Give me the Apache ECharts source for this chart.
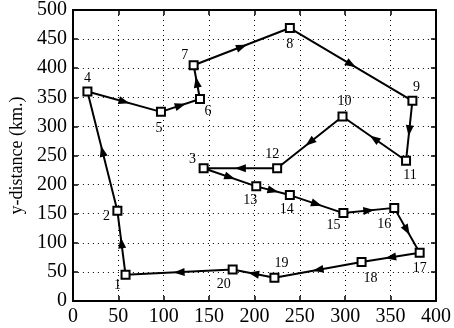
<!DOCTYPE html>
<html><head><meta charset="utf-8">
<script src="https://cdn.jsdelivr.net/npm/echarts@6/dist/echarts.min.js"></script>
<style>html,body{margin:0;padding:0;background:#fff}#c{width:454px;height:328px}</style>
</head><body><div id="c"></div>
<script>
// ---- data ----
const pointIds = ['1','2','3','4','5','6','7','8','9','10','11','12','13','14','15','16','17','18','19','20'];
const xValues  = [58, 49, 144, 16, 97, 140, 133, 239, 374, 297, 367, 225, 202, 239, 298, 354, 382, 318, 222, 176];
const yValues  = [45, 155, 228, 360, 325, 347, 405, 469, 344, 317, 241, 228, 197, 182, 151, 160, 83, 67, 40, 54];
const routeOrder = ['1','2','4','5','6','7','8','9','11','10','12','3','13','14','15','16','17','18','19','20','1'];
const xTickValues = [0, 50, 100, 150, 200, 250, 300, 350, 400];
const yTickValues = [0, 50, 100, 150, 200, 250, 300, 350, 400, 450, 500];
const yAxisTitle = 'y-distance (km.)';

// ---- styling (label offsets in px relative to marker centre) ----
const labelOffsets = {
  '1':[-8,11],'2':[-11,6],'3':[-11,-9],'4':[0,-13],'5':[-2,16],'6':[8,12],'7':[-9,-10],
  '8':[0,16],'9':[4,-13],'10':[2,-15],'11':[4,15],'12':[-5,-14],'13':[-6,14],'14':[-3,14],
  '15':[-10,12],'16':[-10,16],'17':[0,16],'18':[9,16],'19':[7,-14],'20':[-9,15]
};
const FONT = '"Liberation Serif", "DejaVu Serif", serif';

const pt = id => { const i = pointIds.indexOf(id); return [xValues[i], yValues[i]]; };
const pathData = routeOrder.map(pt);
const segData = [];
for (let k = 0; k < routeOrder.length - 1; k++) {
  const a = pt(routeOrder[k]), b = pt(routeOrder[k+1]);
  segData.push([a[0], a[1], b[0], b[1]]);
}
const markerData = pointIds.map((id, i) => ({
  value: [xValues[i], yValues[i]],
  name: id,
  label: { show: true, position: 'inside', offset: labelOffsets[id], formatter: id,
           fontFamily: FONT, fontSize: 14, color: '#000' }
}));

const chart = echarts.init(document.getElementById('c'), null, {renderer: 'canvas'});
const axisLine = { show: true, onZero: false, lineStyle: { color: '#000', width: 2 } };
const splitLine = { show: true, lineStyle: { color: '#000', width: 1, type: [1, 4] } };
chart.setOption({
  animation: false,
  backgroundColor: '#fff',
  grid: { left: 66, right: 16, top: 8, bottom: 27, containLabel: false },
  xAxis: [
    { type: 'value', min: xTickValues[0], max: xTickValues[xTickValues.length-1], interval: 50,
      position: 'bottom', axisLine, splitLine,
      axisTick: { show: true, inside: true, length: 5, lineStyle: { color: '#000', width: 1.5 } },
      axisLabel: { color: '#000', fontFamily: FONT, fontSize: 20, margin: 6 } },
    { type: 'value', min: xTickValues[0], max: xTickValues[xTickValues.length-1], interval: 50,
      position: 'top', axisLine, splitLine: { show: false },
      axisTick: { show: true, inside: true, length: 5, lineStyle: { color: '#000', width: 1.5 } },
      axisLabel: { show: false } }
  ],
  yAxis: [
    { type: 'value', min: yTickValues[0], max: yTickValues[yTickValues.length-1], interval: 50,
      position: 'left', axisLine, splitLine,
      name: yAxisTitle, nameLocation: 'middle', nameRotate: 90, nameGap: 44,
      nameTextStyle: { color: '#000', fontFamily: FONT, fontSize: 18 },
      axisTick: { show: true, inside: true, length: 5, lineStyle: { color: '#000', width: 1.5 } },
      axisLabel: { color: '#000', fontFamily: FONT, fontSize: 20, margin: 6 } },
    { type: 'value', min: yTickValues[0], max: yTickValues[yTickValues.length-1], interval: 50,
      position: 'right', axisLine, splitLine: { show: false },
      axisTick: { show: true, inside: true, length: 5, lineStyle: { color: '#000', width: 1.5 } },
      axisLabel: { show: false } }
  ],
  series: [
    { type: 'line', data: pathData, symbol: 'none', silent: true,
      lineStyle: { color: '#000', width: 2 }, z: 2 },
    { type: 'custom', data: segData, encode: { x: [0, 2], y: [1, 3] }, silent: true, z: 3,
      renderItem: (params, api) => {
        const p1 = api.coord([api.value(0), api.value(1)]);
        const p2 = api.coord([api.value(2), api.value(3)]);
        const dx = p2[0]-p1[0], dy = p2[1]-p1[1];
        const len = Math.hypot(dx, dy) || 1;
        const ux = dx/len, uy = dy/len, px = -uy, py = ux;
        const mx = (p1[0]+p2[0])/2, my = (p1[1]+p2[1])/2;
        const L = 11, W = 4;
        const tip = [mx + ux*L/2, my + uy*L/2];
        const b = [mx - ux*L/2, my - uy*L/2];
        return { type: 'polygon', shape: { points: [tip, [b[0]+px*W, b[1]+py*W], [b[0]-px*W, b[1]-py*W]] },
                 style: { fill: '#000' } };
      } },
    { type: 'scatter', data: markerData, symbol: 'rect', symbolSize: 8, silent: true, z: 4,
      itemStyle: { color: '#fff', borderColor: '#000', borderWidth: 2, opacity: 1 } }
  ]
});
</script></body></html>
